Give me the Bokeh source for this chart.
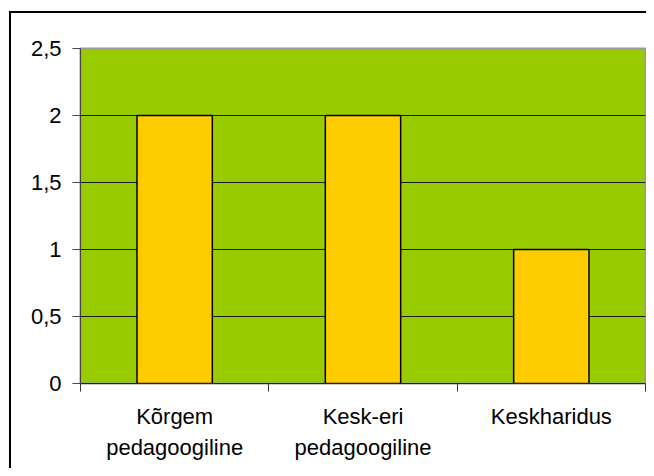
from bokeh.plotting import figure
from bokeh.models import Range1d, FixedTicker, CustomJSTickFormatter
from bokeh.embed import file_html
from bokeh.resources import INLINE

categories = ["Kõrgem\npedagoogiline", "Kesk-eri\npedagoogiline", "Keskharidus"]
values = [2, 2, 1]
y_ticks = [0, 0.5, 1, 1.5, 2, 2.5]

xs = [i + 0.5 for i in range(len(categories))]

W, H = 646, 468
p = figure(width=W, height=H, output_backend="svg", toolbar_location=None,
           x_range=Range1d(0, len(categories)), y_range=Range1d(0, 2.5),
           min_border_left=80, min_border_right=1, min_border_top=48, min_border_bottom=85)
p.background_fill_color = "#99CC00"
p.border_fill_color = None
p.outline_line_color = "#9a9a9a"
p.outline_line_width = 2
# outer chart border (left and top edges), drawn behind the transparent canvas border area
p.styles = {
    "background-color": "white",
    "background-image": "linear-gradient(#000,#000), linear-gradient(#000,#000)",
    "background-position": "9px 11px, 9px 11px",
    "background-size": "2px 100%, 100% 2px",
    "background-repeat": "no-repeat",
}

p.vbar(x=xs, top=values, width=0.4, bottom=0, fill_color="#FFCC00",
       line_color="black", line_width=1.5)

p.xgrid.visible = False
p.ygrid.ticker = FixedTicker(ticks=[t for t in y_ticks if 0 < t < 2.5])
p.ygrid.grid_line_color = "#1a1a1a"
p.ygrid.grid_line_width = 1

FONT = "Liberation Sans"
# y axis
ya = p.yaxis[0]
ya.ticker = FixedTicker(ticks=y_ticks)
ya.formatter = CustomJSTickFormatter(code="return tick.toString().replace('.', ',')")
ya.major_label_text_font = FONT
ya.major_label_text_font_size = "22px"
ya.major_label_text_color = "black"
ya.major_tick_out = 8
ya.major_tick_in = 0
ya.minor_tick_out = 0
ya.minor_tick_in = 0
ya.major_label_standoff = 11
ya.axis_line_color = "#444444"
ya.major_tick_line_color = "#444444"

# x axis
xa = p.xaxis[0]
xa.ticker = FixedTicker(ticks=xs, minor_ticks=list(range(len(categories) + 1)))
xa.formatter = CustomJSTickFormatter(args=dict(labels=categories),
                                     code="return labels[Math.floor(tick)]")
xa.major_label_text_font = FONT
xa.major_label_text_font_size = "22px"
xa.major_label_text_color = "black"
xa.major_label_text_line_height = 1.25
xa.major_tick_out = 0
xa.major_tick_in = 0
xa.minor_tick_out = 8
xa.minor_tick_in = 0
xa.minor_tick_line_color = "#333333"
xa.major_label_standoff = 12
xa.axis_line_color = "#222222"

open("out.html", "w").write(file_html(p, INLINE))
